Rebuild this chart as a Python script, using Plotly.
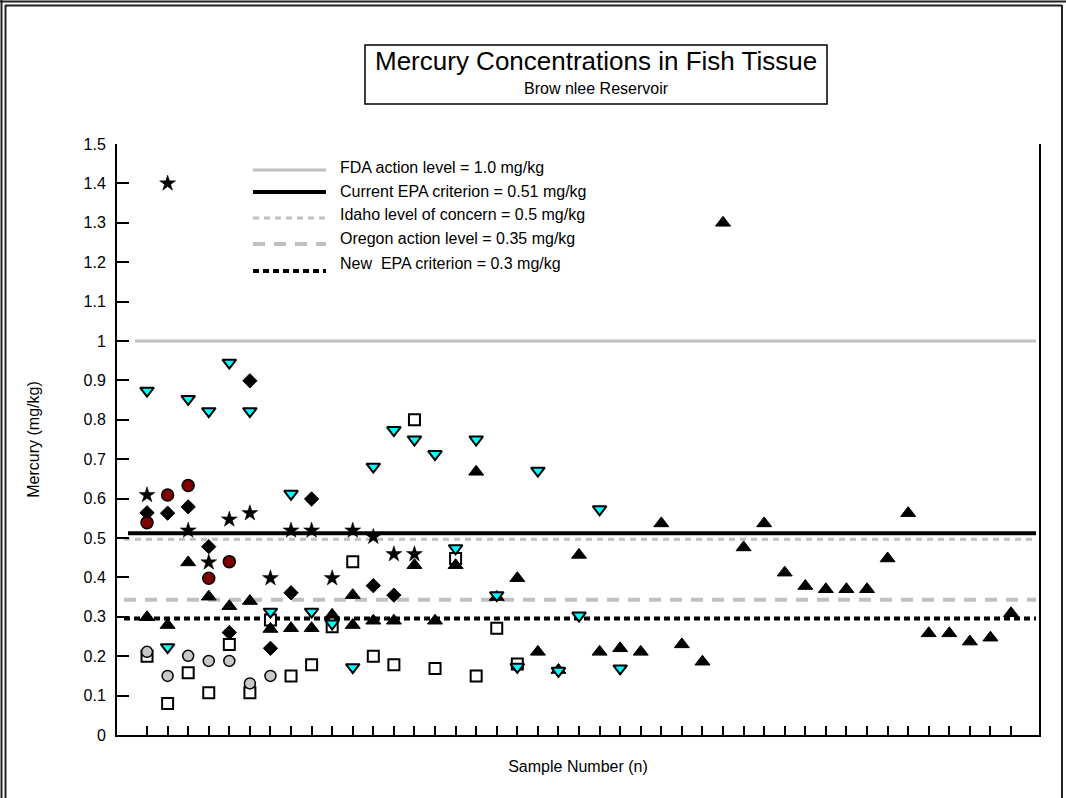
import plotly.graph_objects as go

# ---------------- data ----------------
square_x = [1, 2, 3, 4, 5, 6, 7, 8, 9, 10, 11, 12, 13, 14, 15, 16, 17, 18, 19]
square_y = [0.20, 0.08, 0.158, 0.107, 0.23, 0.107, 0.292, 0.15, 0.178, 0.275,
            0.44, 0.20, 0.178, 0.80, 0.169, 0.448, 0.15, 0.271, 0.18]

uptri_x = [1, 2, 3, 4, 5, 6, 7, 8, 9, 10, 11, 11, 12, 13, 14, 15, 16, 17, 18, 19,
           20, 21, 22, 23, 24, 25, 26, 27, 28, 29, 30, 31, 32, 33, 34, 35, 36, 37,
           38, 39, 40, 41, 42, 43]
uptri_y = [0.299, 0.279, 0.438, 0.351, 0.327, 0.34, 0.269, 0.271, 0.271, 0.305,
           0.355, 0.279, 0.29, 0.29, 0.431, 0.29, 0.431, 0.668, 0.35, 0.398,
           0.211, 0.165, 0.457, 0.211, 0.22, 0.211, 0.537, 0.23, 0.186, 1.30,
           0.476, 0.537, 0.412, 0.378, 0.37, 0.37, 0.37, 0.448, 0.563, 0.258,
           0.258, 0.237, 0.247, 0.309]

graycirc_x = [1, 2, 3, 4, 5, 6, 7]
graycirc_y = [0.211, 0.15, 0.201, 0.188, 0.188, 0.131, 0.15]

diamond_x = [1, 2, 3, 4, 5, 6, 7, 8, 9, 12, 13]
diamond_y = [0.564, 0.563, 0.579, 0.478, 0.26, 0.899, 0.22, 0.361, 0.599, 0.379, 0.355]

star_x = [1, 2, 3, 4, 5, 6, 7, 8, 9, 10, 11, 12, 13, 14]
star_y = [0.609, 1.40, 0.519, 0.438, 0.547, 0.563, 0.398, 0.519, 0.519, 0.398,
          0.519, 0.503, 0.459, 0.459]

redcirc_x = [1, 2, 3, 4, 5]
redcirc_y = [0.539, 0.609, 0.633, 0.398, 0.44]

cyan_x = [1, 2, 3, 4, 5, 6, 7, 8, 9, 10, 11, 12, 13, 14, 15, 16, 17, 18, 19, 20,
          21, 22, 23, 24]
cyan_y = [0.874, 0.223, 0.853, 0.822, 0.945, 0.822, 0.313, 0.612, 0.313, 0.283,
          0.172, 0.681, 0.774, 0.75, 0.713, 0.474, 0.75, 0.355, 0.173, 0.671,
          0.163, 0.303, 0.573, 0.169]

sample_ticks = list(range(1, 44))
y_tick_vals = [0, 0.1, 0.2, 0.3, 0.4, 0.5, 0.6, 0.7, 0.8, 0.9, 1.0, 1.1, 1.2, 1.3, 1.4, 1.5]
y_tick_text = ["0", "0.1", "0.2", "0.3", "0.4", "0.5", "0.6", "0.7", "0.8", "0.9",
               "1", "1.1", "1.2", "1.3", "1.4", "1.5"]

ref_labels = ["FDA action level = 1.0 mg/kg",
              "Current EPA criterion = 0.51 mg/kg",
              "Idaho level of concern = 0.5 mg/kg",
              "Oregon action level = 0.35 mg/kg",
              "New\u00a0 EPA criterion = 0.3 mg/kg"]
ref_values = [1.0, 0.512, 0.497, 0.343, 0.296]

# ---------------- styles ----------------
FONT = "Liberation Sans, Arial, sans-serif"
ref_styles = [
    dict(color="#C0C0C0", width=3, dash="solid"),
    dict(color="#000000", width=4, dash="solid"),
    dict(color="#C0C0C0", width=3, dash="6px,5px"),
    dict(color="#C0C0C0", width=4, dash="12px,9px"),
    dict(color="#000000", width=4, dash="6px,4px"),
]

# plot-area pixel geometry (for paper-coordinate layout items)
PX0, PX1, PY_TOP, PY_BOT = 117, 1039, 144, 735
W, H = 1066, 798


def px(xp):
    return (xp - PX0) / (PX1 - PX0)


def py(yp):
    return (PY_BOT - yp) / (PY_BOT - PY_TOP)


fig = go.Figure()

# reference lines
line_x0 = [px(135), px(128), px(124), px(124), px(124)]
for val, st, x0 in zip(ref_values, ref_styles, line_x0):
    fig.add_shape(type="line", xref="paper", yref="y", x0=x0, x1=px(1036),
                  y0=val, y1=val, line=st, layer="below")

# scatter series
fig.add_trace(go.Scatter(x=square_x, y=square_y, mode="markers", showlegend=False,
                         marker=dict(symbol="square", size=11, color="white",
                                     line=dict(color="black", width=2))))
fig.add_trace(go.Scatter(x=uptri_x, y=uptri_y, mode="markers", showlegend=False,
                         marker=dict(symbol="triangle-up", size=13, color="black",
                                     line=dict(color="black", width=1))))
fig.add_trace(go.Scatter(x=graycirc_x, y=graycirc_y, mode="markers", showlegend=False,
                         marker=dict(symbol="circle", size=11, color="#C8C8C8",
                                     line=dict(color="black", width=1.5))))
fig.add_trace(go.Scatter(x=diamond_x, y=diamond_y, mode="markers", showlegend=False,
                         marker=dict(symbol="diamond", size=11, color="black",
                                     line=dict(color="black", width=1))))
fig.add_trace(go.Scatter(x=star_x, y=star_y, mode="markers", showlegend=False,
                         marker=dict(symbol="star", size=12, color="black",
                                     line=dict(color="black", width=0.5))))
fig.add_trace(go.Scatter(x=redcirc_x, y=redcirc_y, mode="markers", showlegend=False,
                         marker=dict(symbol="circle", size=12, color="#800000",
                                     line=dict(color="black", width=1.5))))
fig.add_trace(go.Scatter(x=cyan_x, y=cyan_y, mode="markers", showlegend=False,
                         marker=dict(symbol="triangle-down", size=12, color="#00FFFF",
                                     line=dict(color="black", width=2))))

# manual legend (line samples + labels)
leg_line_y = [170, 192, 218, 244, 271]
leg_text_y = [167, 191, 214, 239, 263]
for lab, st, ly, ty in zip(ref_labels, ref_styles, leg_line_y, leg_text_y):
    fig.add_shape(type="line", xref="paper", yref="paper", x0=px(253), x1=px(326),
                  y0=py(ly), y1=py(ly), line=st)
    fig.add_annotation(xref="paper", yref="paper", x=px(338), y=py(ty), text=lab,
                       showarrow=False, xanchor="left", yanchor="middle",
                       font=dict(family=FONT, size=16, color="black"))

# title box
fig.add_shape(type="rect", xref="paper", yref="paper", x0=px(365), x1=px(827),
              y0=py(104), y1=py(45), line=dict(color="black", width=1.5))
fig.add_annotation(xref="paper", yref="paper", x=px(596), y=py(61),
                   text="Mercury Concentrations in Fish Tissue", showarrow=False,
                   xanchor="center", yanchor="middle",
                   font=dict(family=FONT, size=26, color="black"))
fig.add_annotation(xref="paper", yref="paper", x=px(596), y=py(88),
                   text="Brow nlee Reservoir", showarrow=False,
                   xanchor="center", yanchor="middle",
                   font=dict(family=FONT, size=16, color="black"))

# outer frame
frame = dict(color="#222222", width=2)
fig.add_shape(type="line", xref="paper", yref="paper", x0=px(0), x1=px(1066),
              y0=py(1.5), y1=py(1.5), line=frame)
fig.add_shape(type="line", xref="paper", yref="paper", x0=px(5), x1=px(1062),
              y0=py(5.5), y1=py(5.5), line=frame)
fig.add_shape(type="line", xref="paper", yref="paper", x0=px(1.5), x1=px(1.5),
              y0=py(0), y1=py(798), line=frame)
fig.add_shape(type="line", xref="paper", yref="paper", x0=px(5.5), x1=px(5.5),
              y0=py(5), y1=py(798), line=frame)
fig.add_shape(type="line", xref="paper", yref="paper", x0=px(1062), x1=px(1062),
              y0=py(5), y1=py(798), line=frame)

fig.update_layout(
    width=W, height=H,
    margin=dict(l=PX0, r=W - PX1, t=PY_TOP, b=H - PY_BOT),
    paper_bgcolor="white", plot_bgcolor="white",
    font=dict(family=FONT, size=13, color="black"),
    showlegend=False,
    xaxis=dict(range=[-0.46, 44.36], tickvals=sample_ticks, showticklabels=False,
               ticks="inside", ticklen=9, tickwidth=1.5, tickcolor="black",
               showline=True, linecolor="black", linewidth=2, showgrid=False,
               zeroline=False,
               title=dict(text="Sample Number (n)", standoff=25,
                          font=dict(family=FONT, size=16, color="black"))),
    yaxis=dict(range=[0, 1.5], tickvals=y_tick_vals, ticktext=y_tick_text,
               ticks="inside", ticklen=12, tickwidth=1.5, tickcolor="black",
               showline=True, linecolor="black", linewidth=2, mirror=True,
               showgrid=False, zeroline=False, ticklabelstandoff=6,
               tickfont=dict(family=FONT, size=16, color="black"),
               title=dict(text="Mercury (mg/kg)", standoff=40,
                          font=dict(family=FONT, size=16, color="black"))),
)

fig.write_html("out.html", config={"displayModeBar": False},
               post_script="document.body.style.margin='0px';")
